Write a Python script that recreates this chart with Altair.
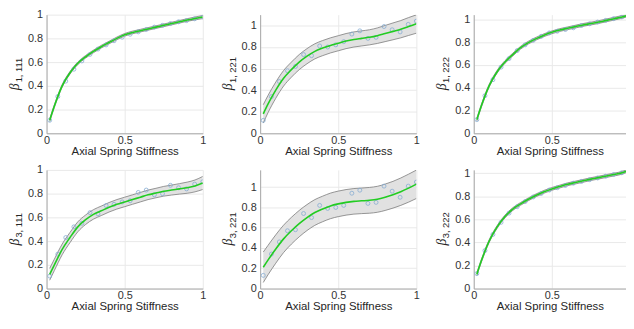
import altair as alt
import pandas as pd

# x positions of the sampled points and of the fitted curve
x_pts = [0.02, 0.072, 0.123, 0.175, 0.226, 0.278, 0.329, 0.381, 0.432, 0.484,
         0.535, 0.587, 0.638, 0.690, 0.742, 0.793, 0.845, 0.896, 0.948, 1.0]
x_fit = [0.02, 0.05, 0.1, 0.15, 0.2, 0.25, 0.3, 0.35, 0.4, 0.45, 0.5,
         0.55, 0.6, 0.65, 0.7, 0.75, 0.8, 0.85, 0.9, 0.95, 1.0]

sub_labels = ["1, 111", "1, 221", "1, 222", "3, 111", "3, 221", "3, 222"]
y_max = [1.0, 1.1, 1.04, 1.0, 1.17, 1.03]
x_max = [1.0, 1.0, 0.975, 1.0, 1.0, 0.975]
x_tick_sets = [[0, 0.5, 1], [0, 0.5, 1], [0, 0.5], [0, 0.5, 1], [0, 0.5, 1], [0, 0.5]]

pts1 = [0.11, 0.31, 0.44, 0.54, 0.61, 0.665, 0.71, 0.745, 0.78, 0.81,
        0.835, 0.855, 0.875, 0.895, 0.91, 0.925, 0.94, 0.95, 0.965, 0.98]
fit1 = [0.110, 0.230, 0.400, 0.510, 0.590, 0.645, 0.690, 0.730, 0.765, 0.800, 0.830,
        0.850, 0.865, 0.880, 0.895, 0.910, 0.925, 0.940, 0.955, 0.968, 0.980]
lo1 = [0.098, 0.219, 0.389, 0.499, 0.579, 0.634, 0.679, 0.719, 0.754, 0.789, 0.819,
       0.839, 0.854, 0.869, 0.884, 0.899, 0.914, 0.929, 0.944, 0.956, 0.967]
hi1 = [0.122, 0.241, 0.411, 0.521, 0.601, 0.656, 0.701, 0.741, 0.776, 0.811, 0.841,
       0.861, 0.876, 0.891, 0.906, 0.921, 0.936, 0.951, 0.966, 0.980, 0.993]

pts2 = [0.12, 0.34, 0.48, 0.58, 0.62, 0.73, 0.72, 0.81, 0.80, 0.82,
        0.85, 0.92, 0.95, 0.88, 0.89, 0.99, 0.96, 0.94, 1.01, 1.04]
fit2 = [0.18, 0.27, 0.40, 0.51, 0.59, 0.66, 0.715, 0.76, 0.79, 0.815, 0.835,
        0.855, 0.87, 0.88, 0.89, 0.905, 0.925, 0.945, 0.965, 0.99, 1.015]
lo2 = [0.095, 0.19, 0.325, 0.438, 0.52, 0.59, 0.645, 0.69, 0.72, 0.745, 0.765,
       0.785, 0.80, 0.81, 0.82, 0.833, 0.85, 0.867, 0.885, 0.907, 0.928]
hi2 = [0.265, 0.35, 0.475, 0.582, 0.66, 0.73, 0.785, 0.83, 0.86, 0.885, 0.905,
       0.925, 0.94, 0.95, 0.96, 0.977, 1.0, 1.023, 1.045, 1.073, 1.098]

pts3 = [0.12, 0.33, 0.47, 0.58, 0.655, 0.725, 0.775, 0.815, 0.85, 0.88,
        0.895, 0.91, 0.925, 0.945, 0.96, 0.975, 0.99, 1.005, 1.02, 1.035]
fit3 = [0.120, 0.245, 0.420, 0.540, 0.625, 0.690, 0.750, 0.795, 0.830, 0.860, 0.885,
        0.905, 0.920, 0.935, 0.950, 0.962, 0.975, 0.990, 1.005, 1.020, 1.030]
lo3 = [0.108, 0.233, 0.408, 0.528, 0.613, 0.678, 0.738, 0.783, 0.818, 0.848, 0.873,
       0.893, 0.908, 0.923, 0.938, 0.950, 0.963, 0.978, 0.993, 1.008, 1.018]
hi3 = [0.132, 0.257, 0.432, 0.552, 0.637, 0.702, 0.762, 0.807, 0.842, 0.872, 0.897,
       0.917, 0.932, 0.947, 0.962, 0.974, 0.987, 1.002, 1.017, 1.032, 1.040]

pts4 = [0.105, 0.29, 0.43, 0.52, 0.55, 0.64, 0.63, 0.70, 0.71, 0.73,
        0.74, 0.81, 0.83, 0.79, 0.80, 0.87, 0.85, 0.84, 0.88, 0.90]
fit4 = [0.12, 0.20, 0.33, 0.43, 0.52, 0.58, 0.625, 0.655, 0.685, 0.71, 0.73,
        0.75, 0.77, 0.79, 0.805, 0.82, 0.83, 0.84, 0.85, 0.865, 0.89]
lo4 = [0.07, 0.152, 0.285, 0.387, 0.478, 0.54, 0.585, 0.615, 0.645, 0.67, 0.69,
       0.71, 0.73, 0.75, 0.765, 0.779, 0.788, 0.796, 0.803, 0.815, 0.835]
hi4 = [0.17, 0.248, 0.375, 0.473, 0.562, 0.62, 0.665, 0.695, 0.725, 0.75, 0.77,
       0.79, 0.81, 0.83, 0.845, 0.861, 0.872, 0.884, 0.897, 0.915, 0.945]

pts5 = [0.13, 0.34, 0.46, 0.57, 0.58, 0.74, 0.70, 0.82, 0.79, 0.80,
        0.82, 0.94, 0.97, 0.84, 0.85, 1.01, 0.96, 0.90, 1.01, 1.05]
fit5 = [0.21, 0.28, 0.39, 0.49, 0.57, 0.64, 0.70, 0.75, 0.785, 0.815, 0.835,
        0.85, 0.86, 0.865, 0.87, 0.88, 0.90, 0.925, 0.955, 0.99, 1.03]
lo5 = [0.06, 0.135, 0.25, 0.355, 0.438, 0.51, 0.572, 0.623, 0.659, 0.689, 0.709,
       0.724, 0.734, 0.739, 0.743, 0.752, 0.77, 0.793, 0.82, 0.852, 0.888]
hi5 = [0.36, 0.425, 0.53, 0.625, 0.702, 0.77, 0.828, 0.877, 0.911, 0.941, 0.961,
       0.976, 0.986, 0.991, 0.997, 1.008, 1.03, 1.057, 1.09, 1.128, 1.168]

pts6 = [0.13, 0.33, 0.47, 0.575, 0.655, 0.71, 0.755, 0.795, 0.825, 0.855,
        0.875, 0.895, 0.915, 0.93, 0.945, 0.96, 0.975, 0.99, 1.005, 1.02]
fit6 = [0.125, 0.245, 0.415, 0.535, 0.625, 0.690, 0.735, 0.775, 0.810, 0.840, 0.865,
        0.885, 0.905, 0.920, 0.935, 0.950, 0.963, 0.977, 0.990, 1.005, 1.018]
lo6 = [0.113, 0.233, 0.403, 0.523, 0.613, 0.678, 0.723, 0.763, 0.798, 0.828, 0.853,
       0.873, 0.893, 0.908, 0.923, 0.938, 0.951, 0.965, 0.978, 0.993, 1.006]
hi6 = [0.137, 0.257, 0.427, 0.547, 0.637, 0.702, 0.747, 0.787, 0.822, 0.852, 0.877,
       0.897, 0.917, 0.932, 0.947, 0.962, 0.975, 0.989, 1.002, 1.017, 1.030]

pts_all = [pts1, pts2, pts3, pts4, pts5, pts6]
fit_all = [fit1, fit2, fit3, fit4, fit5, fit6]
lo_all = [lo1, lo2, lo3, lo4, lo5, lo6]
hi_all = [hi1, hi2, hi3, hi4, hi5, hi6]

y_ticks = [0, 0.2, 0.4, 0.6, 0.8, 1]

FULL_W = 158
H = 120


def panel(i):
    dfp = pd.DataFrame({"x": x_pts, "y": pts_all[i]})
    dff = pd.DataFrame({"x": x_fit, "fit": fit_all[i], "lo": lo_all[i], "hi": hi_all[i]})
    xs = alt.Scale(domain=[0, x_max[i]], nice=False, clamp=True)
    ys = alt.Scale(domain=[0, y_max[i]], nice=False, clamp=True)
    xax = alt.Axis(values=x_tick_sets[i], format="~g", title="Axial Spring Stiffness",
                   labelPadding=1, titlePadding=0, labelFlush=False)
    yax = alt.Axis(values=y_ticks, format="~g", title=None, labelPadding=4)

    def X(f="x"):
        return alt.X(f + ":Q", scale=xs, axis=xax)

    def Y(f):
        return alt.Y(f + ":Q", scale=ys, axis=yax)

    base = alt.Chart(dff)
    band = base.mark_area(color="#e1e1e1", interpolate="monotone", clip=True).encode(
        x=X(), y=Y("lo"), y2="hi:Q")
    lo_line = base.mark_line(color="#7c7c7c", strokeWidth=0.8, interpolate="monotone",
                             clip=True).encode(x=X(), y=Y("lo"))
    hi_line = base.mark_line(color="#7c7c7c", strokeWidth=0.8, interpolate="monotone",
                             clip=True).encode(x=X(), y=Y("hi"))
    dots = alt.Chart(dfp).transform_filter(alt.datum.x <= x_max[i]).mark_point(
        shape="circle", filled=False, size=16, color="#86acd2",
        strokeWidth=0.8, opacity=1, clip=True).encode(x=X(), y=Y("y"))
    fitl = base.mark_line(color="#22cc22", strokeWidth=1.6, interpolate="monotone",
                          clip=True).encode(x=X(), y=Y("fit"))
    lab = alt.Chart(pd.DataFrame({"b": ["β"], "s": [sub_labels[i]]}))
    beta = lab.mark_text(font="Liberation Serif", fontStyle="italic", fontSize=14, angle=270,
                         color="#262626", align="center", baseline="middle").encode(
        text="b:N", x=alt.value(-32), y=alt.value(73))
    sub = lab.mark_text(font="Liberation Sans", fontSize=9.5, angle=270, color="#262626",
                        align="center", baseline="middle").encode(
        text="s:N", x=alt.value(-27.5), y=alt.value(56))
    w = round(FULL_W * x_max[i])
    return alt.layer(band, lo_line, hi_line, dots, fitl, beta, sub).properties(width=w, height=H)


panels = [panel(i) for i in range(6)]

chart = alt.concat(*panels, columns=3, spacing={"row": 7, "column": 15}).properties(
    padding={"left": 0, "top": -1, "right": 0, "bottom": 0}
).configure_view(stroke=None).configure_axis(
    labelFont="Liberation Sans", labelFontSize=11, labelColor="#333333",
    titleFont="Liberation Sans", titleFontSize=11.5, titleFontWeight="normal",
    titleColor="#262626", gridColor="#e9e9e9", domainColor="#a8a8a8",
    ticks=False
)

chart.save("out.html", embed_options={"renderer": "svg", "actions": False})
